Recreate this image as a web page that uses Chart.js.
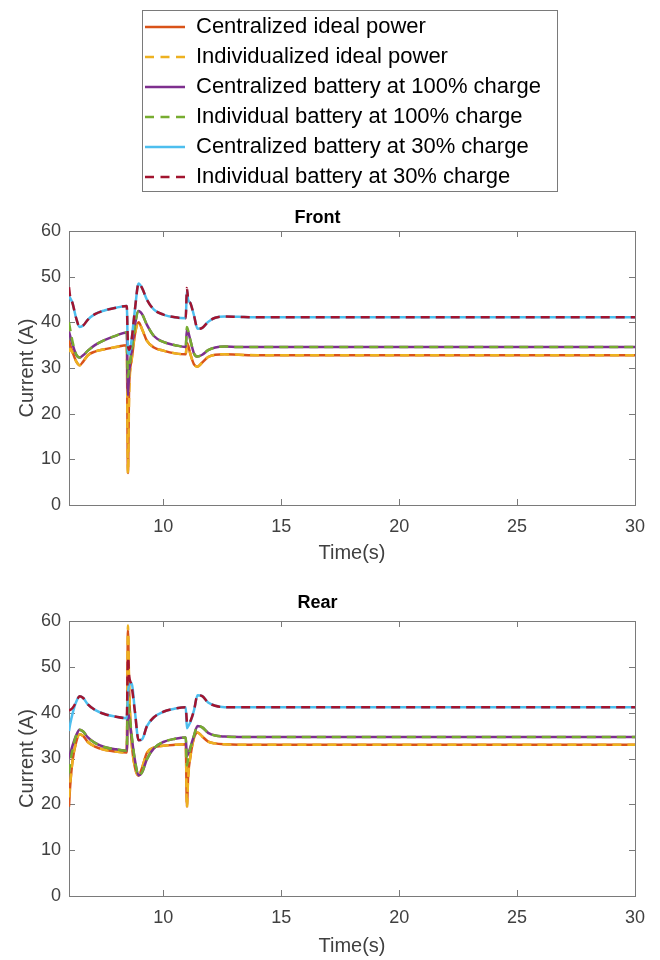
<!DOCTYPE html>
<html>
<head>
<meta charset="utf-8">
<script src="https://cdn.jsdelivr.net/npm/chart.js@4.4.1/dist/chart.umd.min.js"></script>
<style>
    html, body { margin: 0; padding: 0; background: #fff; }
    body { position: relative; width: 660px; height: 960px; overflow: hidden; }
    #legendBox {
        position: absolute; left: 142px; top: 10px; width: 416px; height: 182px;
        box-sizing: border-box; border: 1px solid #7a7a7a; overflow: hidden; background: #fff;
    }
    #legendChart { position: absolute; left: -6px; top: -3px; }
    #frontChart { position: absolute; left: 0; top: 195px; }
    #rearChart { position: absolute; left: 0; top: 585px; }
</style>
</head>
<body>
<div id="legendBox"><canvas id="legendChart" width="900" height="220"></canvas></div>
<canvas id="frontChart" width="660" height="375"></canvas>
<canvas id="rearChart" width="660" height="375"></canvas>

<script>
// Simulation time (s)
const time = [6, 6.05, 6.15, 6.3, 6.45, 6.6, 6.8, 7.1, 7.5, 8.0,
    8.45, 8.5, 8.55, 8.65, 8.8, 8.95, 9.1, 9.3, 9.6, 10.0,
    10.5, 10.95, 11.0, 11.05, 11.15, 11.3, 11.45, 11.65, 11.9, 12.2,
    12.6, 13.2, 14, 30];

const xTicks = [10, 15, 20, 25, 30];
const yTicks = [0, 10, 20, 30, 40, 50, 60];

const seriesNames = [
    'Centralized ideal power',
    'Individualized ideal power',
    'Centralized battery at 100% charge',
    'Individual battery at 100% charge',
    'Centralized battery at 30% charge',
    'Individual battery at 30% charge'
];
const seriesColors = ['#D95319', '#EDB120', '#7E2F8E', '#77AC30', '#4DBEEE', '#A2142F'];
const seriesDashed = [false, true, false, true, false, true];

// Front axle current (A)
const frontCentralIdeal = [36.0, 35.0, 33.5, 31.5, 30.6, 31.4, 32.8, 33.6, 34.1, 34.6,
    35.0, 7.0, 26.0, 31.5, 37.5, 40.0, 38.5, 36.0, 34.5, 33.8,
    33.2, 33.0, 35.5, 35.0, 33.0, 30.8, 30.3, 31.2, 32.4, 32.9,
    33.0, 32.9, 32.8, 32.8];
const frontIndivIdeal = [33.5, 34.2, 33.3, 31.5, 30.6, 31.4, 32.8, 33.6, 34.1, 34.6,
    35.0, 7.0, 24.0, 31.5, 37.5, 40.0, 38.5, 36.0, 34.5, 33.8,
    33.2, 33.0, 35.0, 34.8, 33.0, 30.8, 30.3, 31.2, 32.4, 32.9,
    33.0, 32.9, 32.8, 32.8];
const frontCentral100 = [38.0, 37.0, 35.2, 33.0, 32.3, 32.8, 33.8, 35.0, 36.1, 37.1,
    37.8, 24.0, 29.0, 33.5, 39.5, 42.5, 41.8, 39.5, 37.0, 35.7,
    35.0, 34.6, 38.5, 38.0, 36.0, 33.2, 32.5, 32.9, 33.9, 34.5,
    34.7, 34.6, 34.6, 34.6];
const frontIndiv100 = [40.0, 38.5, 35.8, 33.0, 32.3, 32.8, 33.8, 35.0, 36.1, 37.1,
    37.8, 28.0, 30.0, 33.5, 39.5, 42.5, 41.8, 39.5, 37.0, 35.7,
    35.0, 34.6, 39.0, 38.2, 36.0, 33.2, 32.5, 32.9, 33.9, 34.5,
    34.7, 34.6, 34.6, 34.6];
const frontCentral30 = [45.8, 45.3, 44.2, 41.0, 39.0, 39.3, 40.6, 41.8, 42.6, 43.2,
    43.6, 33.5, 33.0, 36.0, 43.0, 48.5, 47.5, 45.0, 42.8, 41.7,
    41.1, 40.9, 47.0, 45.0, 44.2, 41.5, 38.6, 38.8, 40.1, 41.0,
    41.3, 41.2, 41.1, 41.1];
const frontIndiv30 = [47.7, 45.6, 44.2, 41.0, 39.0, 39.3, 40.6, 41.8, 42.6, 43.2,
    43.6, 35.0, 34.0, 36.0, 43.0, 48.5, 47.5, 45.0, 42.8, 41.7,
    41.1, 40.9, 47.5, 45.2, 44.2, 41.5, 38.6, 38.8, 40.1, 41.0,
    41.3, 41.2, 41.1, 41.1];

// Rear axle current (A)
const rearCentralIdeal = [19.5, 24.0, 29.5, 33.5, 35.3, 34.9, 33.6, 32.6, 31.9, 31.5,
    31.3, 58.0, 45.0, 34.0, 28.0, 26.3, 28.0, 31.2, 32.4, 32.8,
    33.0, 33.1, 19.5, 26.0, 30.5, 34.5, 35.7, 34.8, 33.7, 33.3,
    33.1, 33.0, 33.0, 33.0];
const rearIndivIdeal = [21.5, 24.5, 29.5, 33.5, 35.3, 34.9, 33.6, 32.6, 31.9, 31.5,
    31.3, 59.0, 46.0, 34.0, 28.0, 26.3, 28.0, 31.2, 32.4, 32.8,
    33.0, 33.1, 19.3, 25.5, 30.5, 34.5, 35.7, 34.8, 33.7, 33.3,
    33.1, 33.0, 33.0, 33.0];
const rearCentral100 = [30.0, 31.0, 32.8, 35.0, 36.3, 35.9, 34.6, 33.4, 32.5, 32.0,
    31.7, 40.0, 39.0, 35.0, 29.5, 26.3, 27.0, 29.8, 32.2, 33.6,
    34.3, 34.6, 30.5, 31.0, 32.5, 35.0, 37.1, 36.8, 35.6, 35.0,
    34.8, 34.7, 34.7, 34.7];
const rearIndiv100 = [26.8, 29.0, 32.0, 35.0, 36.3, 35.9, 34.6, 33.4, 32.5, 32.0,
    31.7, 44.0, 41.0, 35.5, 29.5, 26.3, 27.0, 29.8, 32.2, 33.6,
    34.3, 34.6, 28.5, 30.0, 32.3, 35.0, 37.1, 36.8, 35.6, 35.0,
    34.8, 34.7, 34.7, 34.7];
const rearCentral30 = [36.0, 37.5, 39.8, 42.3, 43.6, 43.2, 41.8, 40.6, 39.7, 39.1,
    38.8, 44.0, 46.0, 46.5, 40.0, 34.0, 34.2, 37.0, 39.0, 40.2,
    40.9, 41.2, 36.6, 37.0, 38.0, 40.5, 43.8, 43.6, 42.2, 41.5,
    41.2, 41.2, 41.2, 41.2];
const rearIndiv30 = [40.5, 40.6, 41.0, 42.3, 43.6, 43.2, 41.8, 40.6, 39.7, 39.1,
    38.8, 52.0, 48.0, 46.0, 40.0, 34.0, 34.2, 37.0, 39.0, 40.2,
    40.9, 41.2, 38.0, 37.5, 38.2, 40.5, 43.8, 43.6, 42.2, 41.5,
    41.2, 41.2, 41.2, 41.2];

const frontSeries = [frontCentralIdeal, frontIndivIdeal, frontCentral100, frontIndiv100, frontCentral30, frontIndiv30];
const rearSeries = [rearCentralIdeal, rearIndivIdeal, rearCentral100, rearIndiv100, rearCentral30, rearIndiv30];

const FONT = "'Liberation Sans', Arial, Helvetica, sans-serif";
const DASH = [9, 6];
const LEGEND_DASH = [9, 6.5];

Chart.defaults.font.family = FONT;
Chart.defaults.animation = false;

// MATLAB style box with inward ticks
const axesBoxPlugin = {
    id: 'axesBox',
    beforeDatasetsDraw(chart) {
        const { ctx, chartArea: a, scales } = chart;
        ctx.save();
        ctx.strokeStyle = '#7a7a7a';
        ctx.lineWidth = 1;
        ctx.strokeRect(Math.round(a.left) + 0.5, Math.round(a.top) + 0.5,
            Math.round(a.right - a.left), Math.round(a.bottom - a.top));
        ctx.beginPath();
        xTicks.forEach(v => {
            const px = Math.round(scales.x.getPixelForValue(v)) + 0.5;
            ctx.moveTo(px, a.bottom); ctx.lineTo(px, a.bottom - 6);
            ctx.moveTo(px, a.top); ctx.lineTo(px, a.top + 6);
        });
        yTicks.forEach(v => {
            const py = Math.round(scales.y.getPixelForValue(v)) + 0.5;
            ctx.moveTo(a.left, py); ctx.lineTo(a.left + 6, py);
            ctx.moveTo(a.right, py); ctx.lineTo(a.right - 6, py);
        });
        ctx.stroke();
        ctx.restore();
    }
};

function buildDatasets(series) {
    return series.map((values, i) => ({
        label: seriesNames[i],
        data: values.map((v, k) => ({ x: time[k], y: v })),
        borderColor: seriesColors[i],
        backgroundColor: seriesColors[i],
        borderWidth: 2.5,
        borderDash: seriesDashed[i] ? DASH : [],
        pointRadius: 0,
        cubicInterpolationMode: 'monotone',
        order: series.length - 1 - i
    }));
}

function makePanel(canvasId, title, series, opts) {
    const ctx = document.getElementById(canvasId);
    const H = ctx.height;
    return new Chart(ctx, {
        type: 'line',
        data: { datasets: buildDatasets(series) },
        options: {
            responsive: false,
            devicePixelRatio: 1,
            layout: { padding: { left: 0, right: 25, top: 0, bottom: 0 } },
            plugins: {
                legend: { display: false },
                tooltip: { enabled: false },
                title: {
                    display: true,
                    text: title,
                    color: '#000',
                    font: { size: 18, weight: 'bold' },
                    padding: { top: opts.titleTop, bottom: opts.titleBottom }
                }
            },
            scales: {
                x: {
                    type: 'linear',
                    min: 6,
                    max: 30,
                    grid: { display: false, drawTicks: false },
                    border: { display: false },
                    afterBuildTicks: s => { s.ticks = xTicks.map(v => ({ value: v })); },
                    afterFit: s => { s.height = H - opts.plotBottom; s.paddingLeft = 0; s.paddingRight = 0; },
                    ticks: { color: '#404040', font: { size: 18 }, padding: 11, maxRotation: 0, autoSkip: false },
                    title: {
                        display: true,
                        text: 'Time(s)',
                        color: '#404040',
                        font: { size: 20 },
                        padding: { top: 0, bottom: opts.xTitleBottom }
                    }
                },
                y: {
                    min: 0,
                    max: 60,
                    grid: { display: false, drawTicks: false },
                    border: { display: false },
                    afterBuildTicks: s => { s.ticks = yTicks.map(v => ({ value: v })); },
                    afterFit: s => { s.width = 69; s.paddingTop = 0; s.paddingBottom = 0; },
                    ticks: { color: '#404040', font: { size: 18 }, padding: 8 },
                    title: {
                        display: true,
                        text: 'Current (A)',
                        color: '#404040',
                        font: { size: 20 },
                        padding: { top: 15, bottom: 0 }
                    }
                }
            }
        },
        plugins: [axesBoxPlugin]
    });
}

function makeLegend() {
    const ctx = document.getElementById('legendChart');
    return new Chart(ctx, {
        type: 'line',
        data: {
            datasets: seriesNames.map((name, i) => ({
                label: name,
                data: [],
                borderColor: seriesColors[i],
                borderWidth: 2.5,
                borderDash: seriesDashed[i] ? LEGEND_DASH : []
            }))
        },
        options: {
            responsive: false,
            devicePixelRatio: 1,
            layout: { padding: 0 },
            scales: { x: { display: false }, y: { display: false } },
            plugins: {
                tooltip: { enabled: false },
                legend: {
                    position: 'left',
                    align: 'start',
                    labels: {
                        usePointStyle: true,
                        pointStyle: 'line',
                        pointStyleWidth: 40,
                        padding: 8,
                        color: '#262626',
                        font: { size: 22 },
                        generateLabels: chart => chart.data.datasets.map((ds, i) => ({
                            text: ds.label,
                            strokeStyle: ds.borderColor,
                            fillStyle: ds.borderColor,
                            lineWidth: ds.borderWidth,
                            lineDash: ds.borderDash,
                            pointStyle: 'line',
                            hidden: false,
                            datasetIndex: i
                        }))
                    }
                }
            }
        }
    });
}

document.addEventListener('DOMContentLoaded', function() {
    makeLegend();
    makePanel('frontChart', 'Front', frontSeries, { titleTop: 12.2, titleBottom: 2.2, plotBottom: 310, xTitleBottom: 5 });
    makePanel('rearChart', 'Rear', rearSeries, { titleTop: 7.2, titleBottom: 7.2, plotBottom: 311, xTitleBottom: 1.5 });
});
</script>
</body>
</html>
